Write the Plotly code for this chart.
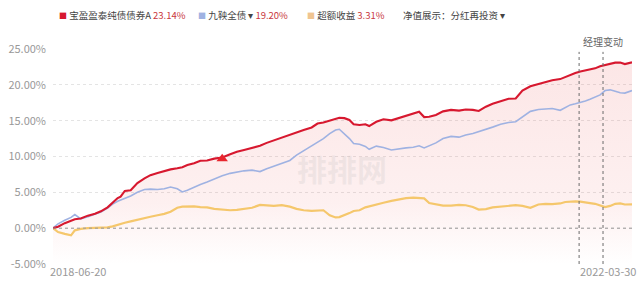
import plotly.graph_objects as go

dates = ["2018-06-20","2018-07-02","2018-07-18","2018-08-02","2018-08-11","2018-08-25","2018-09-11","2018-09-28",
"2018-10-12","2018-10-28","2018-11-09","2018-11-21","2018-11-28","2018-12-08","2018-12-22","2019-01-07",
"2019-01-24","2019-02-07","2019-02-24","2019-03-12","2019-03-27","2019-04-12","2019-04-24","2019-05-06",
"2019-05-22","2019-06-06","2019-06-22","2019-07-09","2019-07-28","2019-08-16","2019-09-01","2019-09-18",
"2019-10-07","2019-10-26","2019-11-11","2019-11-28","2019-12-17","2020-01-05","2020-01-21","2020-02-07",
"2020-02-26","2020-03-11","2020-03-25","2020-04-09","2020-04-23","2020-05-02","2020-05-14","2020-05-26",
"2020-06-05","2020-06-19","2020-07-03","2020-07-12","2020-07-29","2020-08-15","2020-09-03","2020-09-22",
"2020-10-08","2020-10-25","2020-11-08","2020-11-20","2020-12-02","2020-12-18","2021-01-04","2021-01-23",
"2021-02-11","2021-02-27","2021-03-16","2021-03-30","2021-04-16","2021-05-02","2021-05-21","2021-06-09",
"2021-06-26","2021-07-12","2021-07-31","2021-08-19","2021-09-05","2021-09-21","2021-10-10","2021-10-22",
"2021-11-03","2021-11-15","2021-11-27","2021-12-09","2021-12-20","2022-01-01","2022-01-13","2022-01-25",
"2022-02-06","2022-02-18","2022-03-02","2022-03-13","2022-03-30"]

fund = [0,0.2,0.7,1.1,1.25,1.35,1.75,2.0,2.35,2.9,3.5,4.2,4.4,5.2,5.3,6.3,6.95,7.4,7.7,8.0,8.2,8.35,8.5,8.8,
9.05,9.4,9.45,9.7,9.85,10.3,10.65,10.9,11.15,11.5,11.9,12.25,12.7,13.1,13.4,13.7,14.05,14.6,14.75,15.0,15.3,
15.4,15.35,15.1,14.5,14.4,14.5,14.25,14.85,15.2,15.05,15.4,15.7,16.0,16.25,15.5,15.55,15.8,16.3,16.5,16.4,
16.55,16.5,16.35,16.95,17.35,17.7,18.05,18.1,19.2,19.8,20.15,20.45,20.65,20.8,21.1,21.4,21.65,21.85,22.0,
22.1,22.3,22.6,22.8,23.0,23.1,23.1,22.9,23.14]

bench = [0,0.6,1.1,1.5,1.9,1.3,1.6,1.9,2.25,2.8,3.35,3.75,3.9,4.15,4.5,5.0,5.4,5.45,5.4,5.5,5.75,5.5,5.05,5.3,
5.75,6.1,6.45,6.9,7.3,7.65,7.85,8.0,8.1,7.9,8.3,8.65,9.0,9.45,10.2,10.8,11.5,12.0,12.5,13.2,13.7,13.8,13.2,
12.5,11.8,11.7,11.4,11.0,11.45,11.25,10.9,11.1,11.2,11.3,11.5,11.2,11.5,11.9,12.5,12.8,12.7,13.0,13.2,13.45,
13.8,14.1,14.5,14.75,14.85,15.55,16.3,16.55,16.65,16.7,16.45,16.8,17.2,17.35,17.5,17.75,18.0,18.3,18.6,19.2,
19.3,19.1,18.9,18.85,19.2]

excess = [0,-0.55,-0.8,-1.0,-0.3,-0.1,0.0,0.05,0.05,0.1,0.25,0.5,0.6,0.75,0.95,1.2,1.45,1.6,1.8,2.0,2.3,2.85,
3.0,3.05,3.05,2.95,2.9,2.7,2.55,2.5,2.55,2.7,2.85,3.25,3.2,3.1,3.2,3.0,2.7,2.5,2.4,2.45,2.5,1.8,1.5,1.55,1.8,
2.1,2.4,2.5,2.9,3.05,3.3,3.55,3.8,4.0,4.2,4.25,4.25,4.15,3.5,3.3,3.15,3.15,3.25,3.2,2.95,2.6,2.65,2.9,3.0,
3.1,3.2,3.1,2.85,3.3,3.4,3.35,3.45,3.65,3.75,3.75,3.7,3.65,3.5,3.4,3.2,2.95,3.1,3.4,3.45,3.3,3.31]

legend_names = ["宝盈盈泰纯债债券A", "九鞅全债", "超额收益"]
legend_values = ["23.14%", "19.20%", "3.31%"]
manager_change_dates = ["2021-11-24", "2022-01-20"]
buy_marker_date = "2019-07-28"
buy_marker_value = 9.7
y_ticks = [-5, 0, 5, 10, 15, 20, 25]

RED = "#d7182f"
BLUE = "#9fb2e2"
ORANGE = "#f5c76c"
FONT = "Noto Sans CJK SC"

W, H = 640, 285
ML, MR, MT, MB = 50, 8, 49, 21

def px(xp):
    return (xp - ML) / (W - ML - MR)

def py(yp):
    return 1 - (yp - MT) / (H - MT - MB)

fig = go.Figure()

# base for the fill (bottom of the plot)
fig.add_trace(go.Scatter(x=dates, y=[y_ticks[0]] * len(dates), mode="lines",
                         line=dict(width=0), hoverinfo="skip", showlegend=False))
fig.add_trace(go.Scatter(x=dates, y=fund, mode="lines", line=dict(width=0),
                         fill="tonexty",
                         fillgradient=dict(type="vertical",
                                           colorscale=[[0, "rgba(236,90,90,0.0)"],
                                                       [0.3, "rgba(236,90,90,0.09)"],
                                                       [1, "rgba(236,90,90,0.15)"]]),
                         hoverinfo="skip", showlegend=False))
fig.add_trace(go.Scatter(x=dates, y=excess, mode="lines",
                         line=dict(color=ORANGE, width=2.2), showlegend=False))
fig.add_trace(go.Scatter(x=dates, y=bench, mode="lines",
                         line=dict(color=BLUE, width=1.6), showlegend=False))
fig.add_trace(go.Scatter(x=dates, y=fund, mode="lines",
                         line=dict(color=RED, width=2.1), showlegend=False))
fig.add_trace(go.Scatter(x=[buy_marker_date], y=[buy_marker_value], mode="markers",
                         marker=dict(symbol="triangle-up", size=10, color="#e8262e"),
                         showlegend=False))

shapes = [dict(type="line", xref="paper", x0=0, x1=1, yref="y", y0=0, y1=0,
               line=dict(color="#9a9a9a", width=1, dash="dot"))]
for d in manager_change_dates:
    shapes.append(dict(type="line", xref="x", x0=d, x1=d, yref="y", y0=y_ticks[0], y1=24.6,
                       line=dict(color="#6b6b6b", width=1, dash="3px,3px")))

annotations = []
def ann(text, xp, yp, size, color, xanchor="left"):
    annotations.append(dict(text=text, x=px(xp), y=py(yp), xref="paper", yref="paper",
                            xanchor=xanchor, yanchor="middle", showarrow=False,
                            font=dict(size=size, color=color, family=FONT)))

# watermark
ann("<b>排排网</b>", 340, 168, 30, "rgba(190,190,190,0.22)", "center")
# manager change label
ann("经理变动", 603, 41, 10, "#666", "center")
# x labels
ann(dates[0], 45, 271, 11, "#999", "left")
ann(dates[-1], 638, 271, 11, "#999", "right")
# legend
leg_colors = [RED, BLUE, "#f0c490"]
leg_x = [54, 194, 303]
for i in range(3):
    arrow = " ▾" if i == 1 else ""
    txt = (f"<span style='color:{leg_colors[i]};font-size:8px'>■</span> "
           f"{legend_names[i]}{arrow} <span style='color:#c9373d'>{legend_values[i]}</span>")
    ann(txt, leg_x[i], 15, 9.5, "#444", "left")
ann("净值展示：分红再投资 ▾", 400, 15, 9.5, "#444", "left")

fig.update_layout(
    width=W, height=H, margin=dict(l=ML, r=MR, t=MT, b=MB),
    paper_bgcolor="white", plot_bgcolor="white",
    font=dict(family=FONT), shapes=shapes, annotations=annotations, showlegend=False,
    xaxis=dict(type="date", range=[dates[0], dates[-1]], showgrid=False, showticklabels=False,
               zeroline=False, showline=False, fixedrange=True),
    yaxis=dict(range=[y_ticks[0], y_ticks[-1]], tickvals=y_ticks,
               ticktext=[f"{v:.2f}%" for v in y_ticks],
               tickfont=dict(size=11, color="#999", family=FONT),
               showgrid=True, gridcolor="#e4e4e4", griddash="dot", gridwidth=1,
               zeroline=False, showline=False, ticks="", ticklabelstandoff=6),
)

fig.write_html("out.html")
